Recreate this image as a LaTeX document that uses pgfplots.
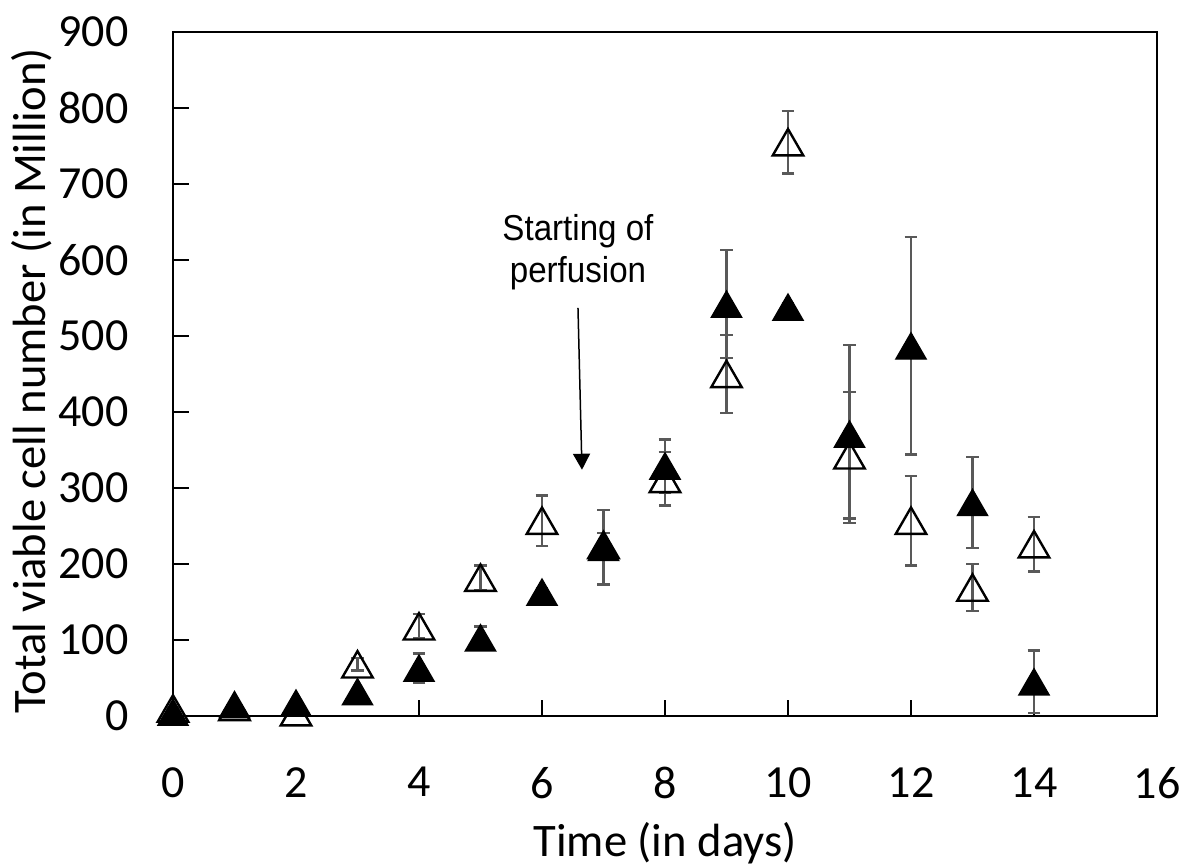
\documentclass[border=0pt]{standalone}
\usepackage{fontspec}
\setmainfont{Carlito}
\newfontfamily\notefont[FakeStretch=0.92]{Liberation Sans}
\usepackage{pgfplots}
\usepackage{pgfplotstable}
\pgfplotsset{compat=1.18}
\usetikzlibrary{arrows.meta}
\definecolor{errgray}{RGB}{89,89,89}

% open triangles
\pgfplotstableread{
x y e
0 10 0
1 12 0
2 5 0
3 68 8
4 118 16
5 182 16
6 257 33
7 225 16
8 312 35
9 450 51
10 755 41
11 343 83
12 257 59
13 169 31
14 226 36
}\openTri

% filled triangles
\pgfplotstableread{
x y e
0 5 0
1 15 0
2 17 0
3 32 0
4 63 19
5 103 15
6 163 5
7 222 49
8 329 35
9 542 71
10 538 5
11 371 117
12 487 143
13 281 60
14 45 41
}\filledTri

\begin{document}
\begin{tikzpicture}
\useasboundingbox (-86.5pt,-74.5pt) rectangle (504.5pt,358pt);
\begin{axis}[
  at={(0pt,0pt)}, anchor=south west,
  scale only axis, width=492pt, height=342pt,
  xmin=0, xmax=16, ymin=0, ymax=900,
  xtick={0,2,...,16}, ytick={0,100,...,900},
  xtick pos=bottom, ytick pos=left,
  tick align=inside, major tick length=8pt,
  axis line style={line width=1.2pt},
  every tick/.style={black, line width=1.2pt},
  /pgf/number format/assume math mode=true,
  tick label style={font=\fontsize{23}{26}\selectfont, inner sep=0pt},
  yticklabel style={anchor=east, xshift=-22pt},
  xticklabel style={anchor=north, yshift=-25.5pt},
  label style={font=\fontsize{23.3}{26}\selectfont, inner sep=0pt},
  xlabel={Time (in days)},
  ylabel={Total viable cell number (in Million)},
  xlabel style={at={(axis description cs:0.5,-0.206)}, anchor=base},
  ylabel style={at={(axis description cs:-0.130,0.49)}, rotate=0, anchor=base},
  clip=false,
]
\addplot[only marks, mark=triangle, mark size=8.8pt,
  mark options={black, line width=1.2pt, yshift=-2.2pt},
  error bars/.cd, y dir=both, y explicit,
  error bar style={errgray, line width=1.2pt},
  error mark options={rotate=90, errgray, mark size=3.2pt, line width=1.2pt}]
  table[x=x, y=y, y error=e]{\openTri};
\addplot[only marks, mark=triangle*, mark size=8.8pt,
  mark options={black, fill=black, line width=0.6pt, yshift=-2.2pt},
  error bars/.cd, y dir=both, y explicit,
  error bar style={errgray, line width=1.2pt},
  error mark options={rotate=90, errgray, mark size=3.2pt, line width=1.2pt}]
  table[x=x, y=y, y error=e]{\filledTri};
\draw[line width=0.75pt, -{Triangle[width=8.5pt, length=8pt]}]
  (axis cs:6.585,537) -- (axis cs:6.65,324);
\node[anchor=base, inner sep=0pt, font=\notefont\fontsize{18}{21}\selectfont]
  at (axis cs:6.585,626) {Starting of};
\node[anchor=base, inner sep=0pt, font=\notefont\fontsize{18}{21}\selectfont]
  at (axis cs:6.585,570) {perfusion};
\end{axis}
\end{tikzpicture}
\end{document}
